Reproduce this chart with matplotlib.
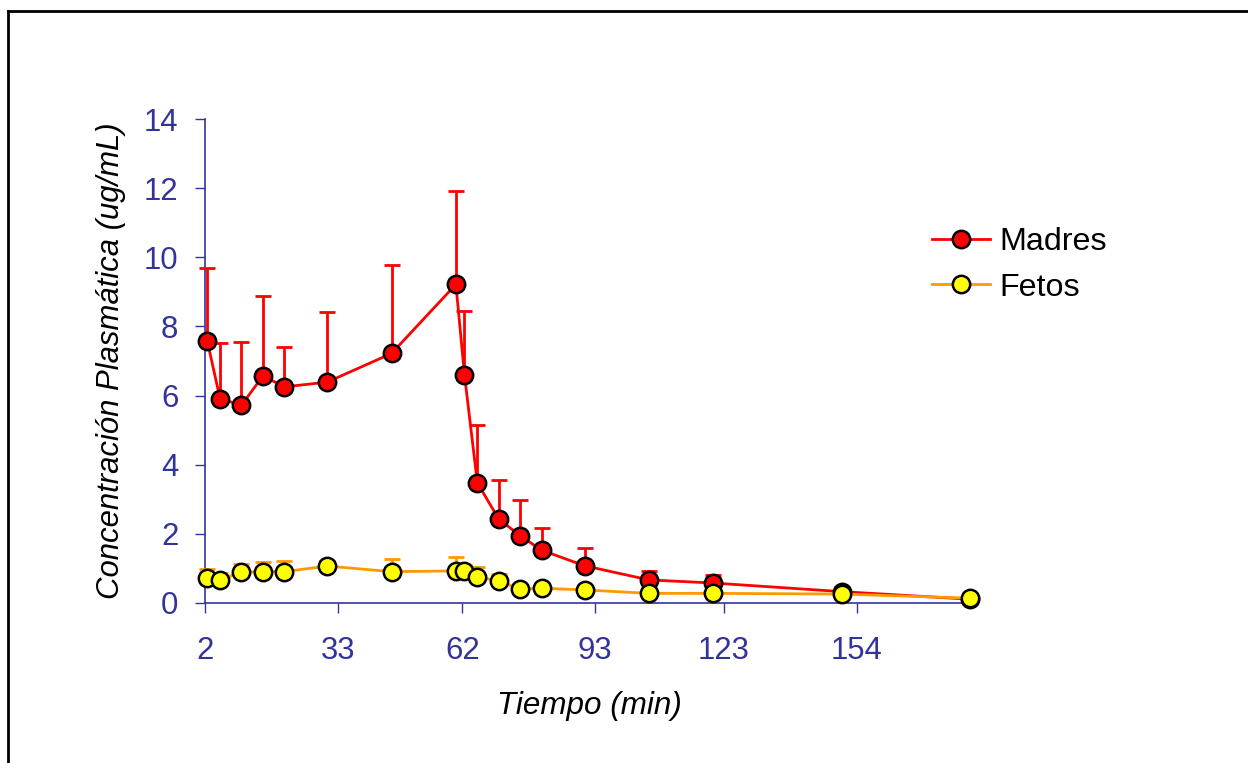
import matplotlib.pyplot as plt
import numpy as np
from matplotlib.lines import Line2D

plt.rcParams['font.family'] = ['Liberation Sans', 'DejaVu Sans']

# Data
tiempo = [2, 5, 10, 15, 20, 30, 45, 60, 62, 65, 70, 75, 80, 90, 105, 120, 150, 180]
madres = [7.59, 5.91, 5.72, 6.57, 6.25, 6.39, 7.22, 9.22, 6.60, 3.47, 2.42, 1.94,
          1.52, 1.07, 0.66, 0.57, 0.32, 0.10]
madres_sd = [2.09, 1.60, 1.82, 2.30, 1.15, 2.02, 2.57, 2.70, 1.84, 1.67, 1.12, 1.03,
             0.63, 0.52, 0.27, 0.23, 0.13, 0.02]
fetos = [0.72, 0.66, 0.88, 0.90, 0.90, 1.06, 0.90, 0.92, 0.92, 0.75, 0.63, 0.39,
         0.42, 0.37, 0.27, 0.27, 0.25, 0.13]
fetos_sd = [0.25, 0.19, 0.23, 0.27, 0.30, 0.16, 0.36, 0.40, 0.18, 0.29, 0.19, 0.06,
            0.06, 0.05, 0.03, 0.03, 0.03, 0.02]
xtick_labels = [2, 33, 62, 93, 123, 154]
yticks = [0, 2, 4, 6, 8, 10, 12, 14]

axis_color = '#333399'

fig = plt.figure(figsize=(12.48, 7.63), dpi=100)
ax = fig.add_axes([0.1643, 0.2101, 0.6154, 0.6335])

# Madres (mean + upper SD)
ax.errorbar(tiempo, madres, yerr=[np.zeros(len(madres)), madres_sd], fmt='none',
            ecolor='#FF0000', elinewidth=2, capsize=5.5, capthick=2, zorder=2,
            clip_on=False)
ax.plot(tiempo, madres, color='#FF0000', lw=2, marker='o', markersize=12.5,
        markerfacecolor='#FF0000', markeredgecolor='black', markeredgewidth=1.8,
        label='Madres', zorder=3, clip_on=False)

# Fetos
ax.errorbar(tiempo, fetos, yerr=[np.zeros(len(fetos)), fetos_sd], fmt='none',
            ecolor='#FF9900', elinewidth=2, capsize=5.5, capthick=2, zorder=4,
            clip_on=False)
ax.plot(tiempo, fetos, color='#FF9900', lw=2, marker='o', markersize=12.5,
        markerfacecolor='#FFFF00', markeredgecolor='black', markeredgewidth=1.8,
        label='Fetos', zorder=5, clip_on=False)

ax.set_xlim(1.5, 180.6)
ax.set_ylim(0, 14)
ax.set_xticks(np.array(xtick_labels) - 0.5)
ax.set_xticklabels([str(v) for v in xtick_labels])
ax.set_yticks(yticks)

for side in ['top', 'right']:
    ax.spines[side].set_visible(False)
for side in ['left', 'bottom']:
    ax.spines[side].set_color(axis_color)
    ax.spines[side].set_linewidth(1.2)
    ax.spines[side].set_zorder(1)

ax.tick_params(axis='both', colors=axis_color, labelsize=22.4, direction='out',
               length=7.2, width=1.0)
ax.tick_params(axis='y', pad=12)
ax.tick_params(axis='x', pad=17)
for lab in ax.get_xticklabels() + ax.get_yticklabels():
    lab.set_color(axis_color)

ax.set_xlabel('Tiempo (min)', fontsize=22.6, style='italic', color='black', labelpad=18)
ax.set_ylabel('Concentración Plasmática (ug/mL)', fontsize=22.4, style='italic',
              color='black', labelpad=12.5)

fig.legend(loc='center left', bbox_to_anchor=(0.7236, 0.6527), frameon=False,
           fontsize=23.2, handlelength=1.8, handletextpad=0.3, labelspacing=0.48)

# outer chart border (left and top edges visible)
fig.add_artist(Line2D([8 / 1248, 8 / 1248], [0, 1 - 11 / 763], color='black', lw=2,
                      transform=fig.transFigure))
fig.add_artist(Line2D([8 / 1248, 1], [1 - 11 / 763, 1 - 11 / 763], color='black', lw=2,
                      transform=fig.transFigure))

fig.savefig('out.png', dpi=100, facecolor='white')
